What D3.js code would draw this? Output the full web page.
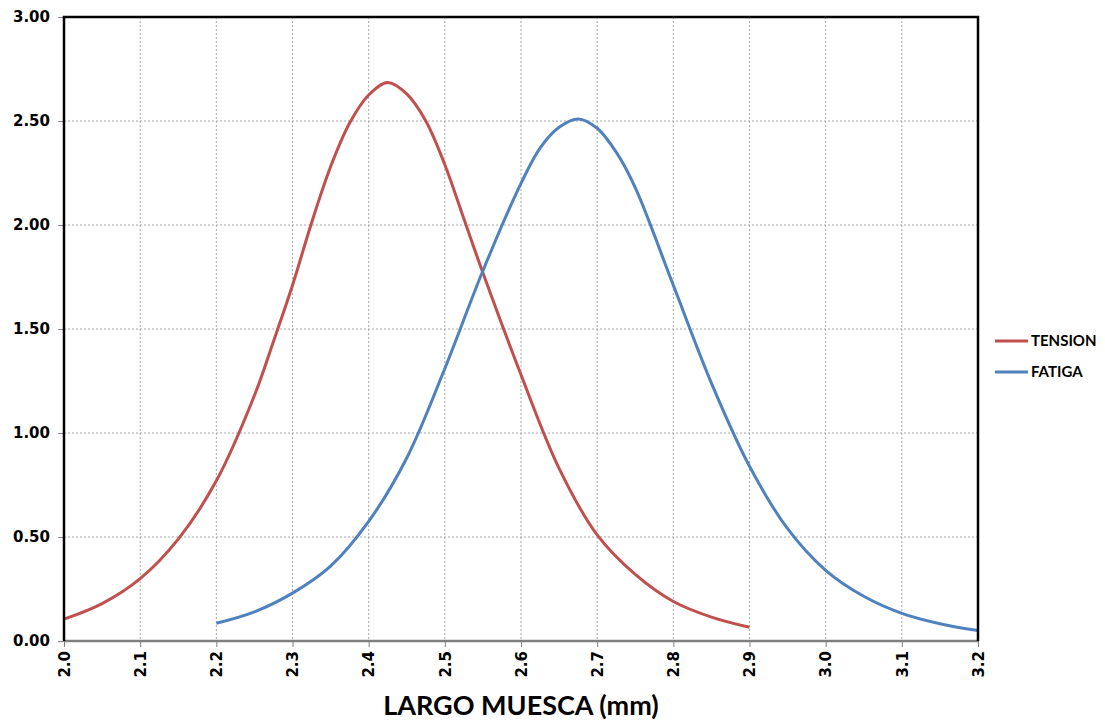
<!DOCTYPE html>
<html><head><meta charset="utf-8">
<script src="https://cdn.jsdelivr.net/npm/d3@7"></script>
<style>html,body{margin:0;padding:0;background:#fff}</style>
</head><body>
<svg id="c" width="1105" height="721"></svg>
<script>
const tensionX = [2.00,2.05,2.10,2.15,2.20,2.25,2.275,2.30,2.325,2.35,2.375,2.40,2.425,2.45,2.475,2.50,2.525,2.55,2.60,2.65,2.70,2.75,2.80,2.85,2.90];
const tensionY = [0.105,0.18,0.30,0.49,0.77,1.18,1.44,1.71,2.01,2.28,2.49,2.625,2.685,2.63,2.50,2.29,2.03,1.77,1.28,0.83,0.51,0.32,0.19,0.115,0.066];
const fatigaX = [2.20,2.25,2.30,2.35,2.40,2.45,2.50,2.55,2.60,2.625,2.65,2.675,2.70,2.725,2.75,2.80,2.85,2.90,2.95,3.00,3.05,3.10,3.15,3.20];
const fatigaY = [0.085,0.14,0.23,0.36,0.575,0.88,1.31,1.78,2.20,2.37,2.47,2.51,2.465,2.35,2.18,1.71,1.24,0.84,0.54,0.34,0.215,0.133,0.083,0.05];
const xTicks = [2.0,2.1,2.2,2.3,2.4,2.5,2.6,2.7,2.8,2.9,3.0,3.1,3.2];
const yTicks = [0,0.5,1.0,1.5,2.0,2.5,3.0];
const seriesNames = ["TENSION","FATIGA"];
const seriesColors = ["#C0504D","#4F81BD"];
const xTitle = "LARGO MUESCA (mm)";

const svg = d3.select("#c");
const L=64, R=978, T=17, B=641;
const x = d3.scaleLinear().domain([2.0,3.2]).range([L,R]);
const y = d3.scaleLinear().domain([0,3.0]).range([B,T]);

// grid
const g = svg.append("g");
g.selectAll("line.vg").data(xTicks.slice(1,-1)).enter().append("line")
  .attr("x1",d=>x(d)).attr("x2",d=>x(d)).attr("y1",T).attr("y2",B)
  .attr("stroke","#a6a6a6").attr("stroke-width",1).attr("stroke-dasharray","2,2");
g.selectAll("line.hg").data(yTicks.slice(1,-1)).enter().append("line")
  .attr("x1",L).attr("x2",R).attr("y1",d=>y(d)).attr("y2",d=>y(d))
  .attr("stroke","#a6a6a6").attr("stroke-width",1).attr("stroke-dasharray","2,2");

// axes
const yAxis = d3.axisLeft(y).tickValues(yTicks).tickSize(6).tickPadding(8).tickFormat(d3.format(".2f"));
const ya = svg.append("g").attr("transform",`translate(${L},0)`).call(yAxis);
ya.select(".domain").remove();
ya.selectAll(".tick line").attr("stroke","#808080");
ya.selectAll(".tick text").attr("font-family","DejaVu Sans").attr("font-weight","bold").attr("font-size",15).attr("fill","#000");

const xAxis = d3.axisBottom(x).tickValues(xTicks).tickSize(6).tickFormat(d3.format(".1f"));
const xa = svg.append("g").attr("transform",`translate(0,${B})`).call(xAxis);
xa.select(".domain").remove();
xa.selectAll(".tick line").attr("stroke","#808080");
xa.selectAll(".tick text").attr("font-family","DejaVu Sans").attr("font-weight","bold").attr("font-size",15).attr("fill","#000")
  .attr("transform","rotate(-90)").attr("text-anchor","end").attr("dy","0.35em").attr("x",-10).attr("y",0);

// curves
const line = d3.line().x(d=>x(d[0])).y(d=>y(d[1])).curve(d3.curveCatmullRom.alpha(0.5));
const data = [d3.zip(tensionX,tensionY), d3.zip(fatigaX,fatigaY)];
svg.selectAll("path.s").data(data).enter().append("path")
  .attr("d",line).attr("fill","none").attr("stroke",(d,i)=>seriesColors[i]).attr("stroke-width",3);

// frame
svg.append("line").attr("x1",L).attr("x2",R).attr("y1",B).attr("y2",B).attr("stroke","#7f7f7f").attr("stroke-width",2.5);
svg.append("path").attr("d",`M${L},${B}V${T}H${R}V${B}`).attr("fill","none").attr("stroke","#000").attr("stroke-width",2.5);

// legend
const lg = svg.append("g");
seriesNames.forEach((n,i)=>{
  const yy = 341 + i*31;
  lg.append("line").attr("x1",995).attr("x2",1028).attr("y1",yy).attr("y2",yy).attr("stroke",seriesColors[i]).attr("stroke-width",3);
  lg.append("text").attr("x",1031).attr("y",yy).attr("dy","0.35em").text(n)
    .attr("font-family","Lato").attr("font-weight","bold").attr("font-size",15).attr("fill","#000");
});

// title
svg.append("text").attr("x",(L+R)/2).attr("y",715).attr("text-anchor","middle").text(xTitle)
  .attr("font-family","Lato").attr("font-weight","bold").attr("font-size",27).attr("fill","#000");
</script>
</body></html>
